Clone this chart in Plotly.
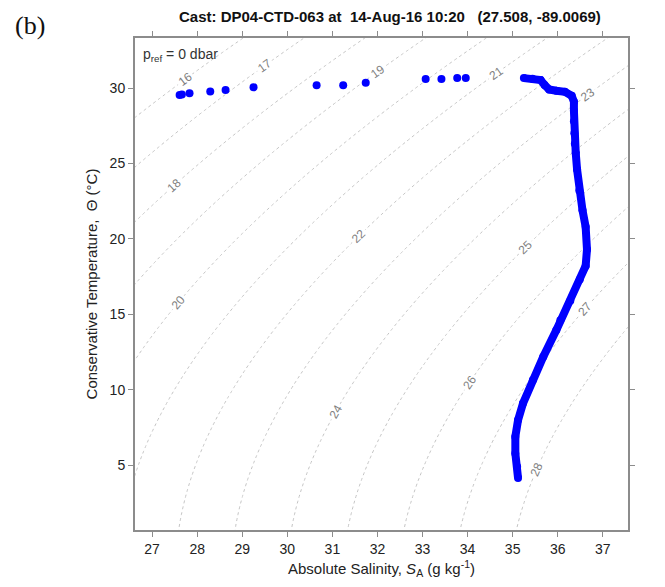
import numpy as np
import plotly.graph_objects as go

# Surface (scattered) samples: Absolute Salinity, Conservative Temperature
surf_sa = [27.61, 27.66, 27.83, 28.29, 28.63, 29.25, 30.65, 31.24, 31.74, 33.07, 33.42, 33.77, 33.96]
surf_ct = [29.54, 29.58, 29.65, 29.78, 29.87, 30.05, 30.18, 30.18, 30.35, 30.60, 30.60, 30.66, 30.66]

# Continuous profile samples
prof_sa = [35.25, 35.44, 35.62, 35.71, 35.81, 35.97, 36.16, 36.31, 36.36, 36.36, 36.36, 36.37,
           36.38, 36.40, 36.43, 36.48, 36.55, 36.62, 36.65, 36.62, 36.49, 36.28, 36.06, 35.97,
           35.68, 35.45, 35.23, 35.12, 35.06, 35.06, 35.10, 35.12]
prof_ct = [30.66, 30.62, 30.53, 30.20, 29.91, 29.82, 29.75, 29.49, 29.10, 28.5, 27.8, 27.0,
           26.3, 25.7, 24.6, 23.2, 21.9, 20.8, 19.3, 18.2, 17.3, 15.9, 14.6, 13.95,
           12.18, 10.64, 9.09, 7.98, 6.88, 5.77, 4.89, 4.14]

x_ticks = [27, 28, 29, 30, 31, 32, 33, 34, 35, 36, 37]
y_ticks = [5, 10, 15, 20, 25, 30]
sigma_levels = (16, 28, 1)

title_text = "Cast: DP04-CTD-063 at  14-Aug-16 10:20   (27.508, -89.0069)"

# density grid (EOS-80 surface density, SA converted to practical salinity)
gx = np.linspace(26.5, 37.7, 220)
gy = np.linspace(0.5, 33.5, 220)
SA, T = np.meshgrid(gx, gy)
S = SA * 35.0 / 35.16504
rw = (999.842594 + 6.793952e-2 * T - 9.095290e-3 * T**2 + 1.001685e-4 * T**3
      - 1.120083e-6 * T**4 + 6.536332e-9 * T**5)
rho = (rw + S * (0.824493 - 4.0899e-3 * T + 7.6438e-5 * T**2 - 8.2467e-7 * T**3 + 5.3875e-9 * T**4)
       + S**1.5 * (-5.72466e-3 + 1.0227e-4 * T - 1.6546e-6 * T**2) + 4.8314e-4 * S**2)
sigma = rho - 1000.0

fig = go.Figure()
fig.add_trace(go.Contour(
    x=gx, y=gy, z=sigma,
    contours=dict(start=sigma_levels[0], end=sigma_levels[1], size=sigma_levels[2],
                  coloring="none", showlabels=True,
                  labelfont=dict(size=12, color="#808080", family="Liberation Sans")),
    line=dict(color="#c4c4c4", width=1, dash="dot"),
    showscale=False, hoverinfo="skip",
))
fig.add_trace(go.Scatter(
    x=surf_sa, y=surf_ct, mode="markers",
    marker=dict(color="#0000ff", size=8), showlegend=False,
))
fig.add_trace(go.Scatter(
    x=prof_sa, y=prof_ct, mode="lines+markers",
    line=dict(color="#0000ff", width=8),
    marker=dict(color="#0000ff", size=8), showlegend=False,
))

axis_common = dict(
    showgrid=False, zeroline=False, showline=True, linecolor="#8c8c8c", linewidth=2,
    mirror="ticks", ticks="outside", ticklen=5, tickcolor="#8c8c8c", tickwidth=1,
    tickfont=dict(size=14, color="#222", family="Liberation Sans"),
)
fig.update_xaxes(range=[26.62, 37.56], tickvals=x_ticks, **axis_common,
                 title=dict(text="Absolute Salinity, <i>S</i><sub>A</sub> (g kg<sup>-1</sup>)",
                            font=dict(size=15, color="#222", family="Liberation Sans"), standoff=8))
fig.update_yaxes(range=[0.69, 33.32], tickvals=y_ticks, **axis_common,
                 title=dict(text="Conservative Temperature,  Θ (°C)",
                            font=dict(size=15, color="#222", family="Liberation Sans"), standoff=8))

fig.update_layout(
    width=665, height=587,
    margin=dict(l=135, r=37, t=38, b=57),
    plot_bgcolor="white", paper_bgcolor="white",
    showlegend=False,
    annotations=[
        dict(text="<b>" + title_text + "</b>", xref="paper", yref="paper",
             x=0.518, y=1.0, yshift=22, xanchor="center", yanchor="middle", showarrow=False,
             font=dict(size=15, color="#111", family="Liberation Sans")),
        dict(text="(b)", xref="paper", yref="paper", x=-0.248, y=1.0, yshift=13,
             xanchor="left", yanchor="middle", showarrow=False,
             font=dict(size=26, color="#111", family="Liberation Serif")),
        dict(text="p<sub>ref</sub> = 0 dbar", xref="paper", yref="paper",
             x=0.013, y=0.988, xanchor="left", yanchor="top", showarrow=False,
             font=dict(size=14, color="#333", family="Liberation Sans")),
    ],
)

fig.write_html("out.html")
